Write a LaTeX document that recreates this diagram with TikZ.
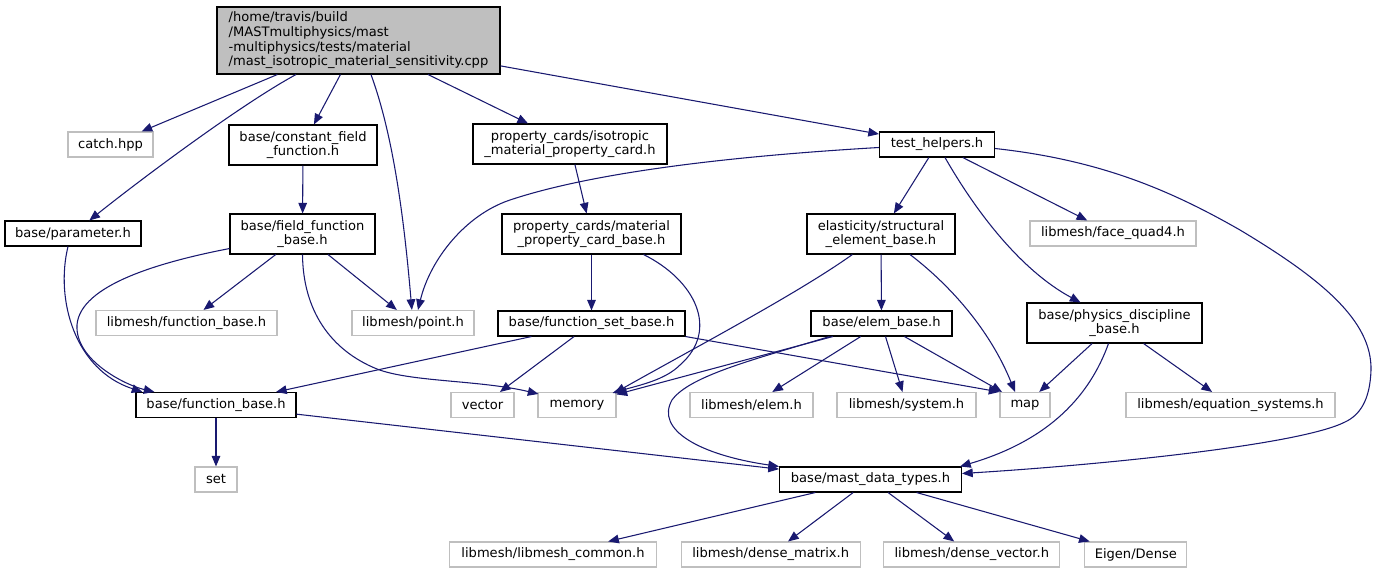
\documentclass[tikz,border=0pt]{standalone}
\usepackage{fontspec}
\setmainfont{DejaVu Sans}
\usetikzlibrary{arrows.meta,calc}
\definecolor{edgeblue}{HTML}{191970}
\definecolor{greyline}{HTML}{BFBFBF}
\definecolor{mainfill}{HTML}{BFBFBF}
\begin{document}
\begin{tikzpicture}[x=0.75pt,y=-0.75pt,
  every node/.style={font=\fontsize{9.8}{11}\selectfont, inner sep=0pt, align=center},
  blk/.style={draw=black, line width=0.8pt, fill=white, rectangle},
  gry/.style={draw=greyline, line width=0.8pt, fill=white, rectangle},
  wh/.style 2 args={minimum width=#1*0.75pt, minimum height=#2*0.75pt},
  edge/.style={draw=edgeblue, line width=0.8pt, -{Triangle[length=8pt,width=6.5pt]}}]
\useasboundingbox (0,0) rectangle (1376,573);

% nodes
\node[blk, fill=mainfill, wh={283}{67}, align=left] (main) at (358.5,40.5) {/home/travis/build\\/MASTmultiphysics/mast\\-multiphysics/tests/material\\/mast\_isotropic\_material\_sensitivity.cpp};
\node[gry, wh={85}{25}] (catch) at (110.5,144.5) {catch.hpp};
\node[blk, wh={148}{40}] (cff) at (303,145) {base/constant\_field\\\_function.h};
\node[blk, wh={194}{40}] (iso) at (570,144) {property\_cards/isotropic\\\_material\_property\_card.h};
\node[blk, wh={115}{25}] (th) at (937,144.5) {test\_helpers.h};
\node[blk, wh={136}{25}] (param) at (73,233.5) {base/parameter.h};
\node[blk, wh={145}{40}] (ffb) at (302.5,234) {base/field\_function\\\_base.h};
\node[blk, wh={179}{40}] (mpcb) at (591.5,234) {property\_cards/material\\\_property\_card\_base.h};
\node[blk, wh={148}{40}] (seb) at (881,234) {elasticity/structural\\\_element\_base.h};
\node[gry, wh={166}{25}] (fq4) at (1113,233.5) {libmesh/face\_quad4.h};
\node[gry, wh={181}{25}] (lfb) at (186.5,323) {libmesh/function\_base.h};
\node[gry, wh={122}{25}] (point) at (413,323) {libmesh/point.h};
\node[blk, wh={187}{25}] (fsb) at (591.5,323.5) {base/function\_set\_base.h};
\node[blk, wh={141}{25}] (eb) at (881.5,323.5) {base/elem\_base.h};
\node[blk, wh={175}{40}] (pdb) at (1114.5,323) {base/physics\_discipline\\\_base.h};
\node[blk, wh={160}{25}] (fb) at (216,405) {base/function\_base.h};
\node[gry, wh={63}{25}] (vector) at (482.5,405) {vector};
\node[gry, wh={78}{25}] (memory) at (577,405) {memory};
\node[gry, wh={123}{25}] (elem) at (751.5,405) {libmesh/elem.h};
\node[gry, wh={139}{25}] (system) at (906.5,405) {libmesh/system.h};
\node[gry, wh={50}{25}] (map) at (1025,405) {map};
\node[gry, wh={209}{25}] (eqs) at (1230.5,405) {libmesh/equation\_systems.h};
\node[gry, wh={42}{25}] (set) at (216,479.5) {set};
\node[blk, wh={182}{25}] (mdt) at (870.5,479.5) {base/mast\_data\_types.h};
\node[gry, wh={207}{25}] (lmc) at (553,554.5) {libmesh/libmesh\_common.h};
\node[gry, wh={179}{25}] (dm) at (770.7,554.5) {libmesh/dense\_matrix.h};
\node[gry, wh={176}{25}] (dv) at (971.8,554.5) {libmesh/dense\_vector.h};
\node[gry, wh={102}{25}] (eig) at (1135.8,554.5) {Eigen/Dense};

% edges
\draw[edge] (main) -- (catch);
\draw[edge] (main) .. controls (240,105) and (140,180) .. (param);
\draw[edge] (main) -- (cff);
\draw[edge] (main) .. controls (395,140) and (405,230) .. (point);
\draw[edge] (main) -- (iso);
\draw[edge] (main) -- (th);
\draw[edge] (cff) -- (ffb);
\draw[edge] ($(param.south)+(-5,0)$) .. controls (55,300) and (75,370) .. ($(fb.north west)+(7,0)$);
\draw[edge] ($(ffb.south west)+(0,-6)$) .. controls (160,262) and (80,285) .. (77,325) .. controls (75,360) and (125,385) .. ($(fb.north west)+(19,0)$);
\draw[edge] (ffb) -- (lfb);
\draw[edge] (ffb) -- (point);
\draw[edge] (ffb.south) .. controls (303,310) and (330,350) .. (377,369) .. controls (410,382) and (480,380) .. ($(memory.north west)+(1,2)$);
\draw[edge] (iso) -- (mpcb);
\draw[edge] (mpcb.south) -- (mpcb.south |- fsb.north);
\draw[edge] ($(mpcb.south east)+(-38,0)$) .. controls (695,280) and (720,330) .. (680,365) .. controls (665,380) and (640,385) .. ($(memory.north east)+(-4,1)$);
\draw[edge] ($(th.west)+(0,3)$) .. controls (750,155) and (600,170) .. (510,200) .. controls (465,215) and (430,260) .. ($(point.north)+(5,0)$);
\draw[edge] (th) -- (seb);
\draw[edge] (th) -- (fq4);
\draw[edge] ($(th.south)+(8,0)$) .. controls (975,210) and (1020,270) .. ($(pdb.north)+(-34,0)$);
\draw[edge] ($(th.east)+(0,4)$) .. controls (1100,160) and (1170,190) .. (1240,230) .. controls (1320,278) and (1372,320) .. (1371,370) .. controls (1370,400) and (1360,415) .. (1345,422) .. controls (1300,445) and (1100,465) .. ($(mdt.east)+(0,-6)$);
\draw[edge] (seb) .. controls (800,292) and (700,345) .. ($(memory.north east)+(-2,1)$);
\draw[edge] (seb) -- (eb);
\draw[edge] ($(seb.south)+(29,0)$) .. controls (950,285) and (990,330) .. ($(map.north)+(-10,0)$);
\draw[edge] (fsb) -- (fb);
\draw[edge] (fsb) -- (vector);
\draw[edge] (fsb.south east) -- (map.north west);
\draw[edge] (eb) -- (memory);
\draw[edge] (eb) -- (elem);
\draw[edge] (eb) -- (system);
\draw[edge] (eb) -- (map);
\draw[edge] ($(eb.south west)+(19,0)$) .. controls (760,358) and (690,375) .. (672,400) .. controls (655,430) and (700,455) .. (mdt.north west);
\draw[edge] (pdb) -- (map);
\draw[edge] (pdb) -- (eqs);
\draw[edge] ($(pdb.south)+(-6,0)$) .. controls (1090,395) and (1050,440) .. ($(mdt.north east)+(-2,0)$);
\draw[edge] (fb) -- (set);
\draw[edge] (fb) -- (mdt);
\draw[edge] (mdt) -- (lmc);
\draw[edge] (mdt) -- (dm);
\draw[edge] (mdt) -- (dv);
\draw[edge] (mdt) -- (eig);
\end{tikzpicture}
\end{document}
